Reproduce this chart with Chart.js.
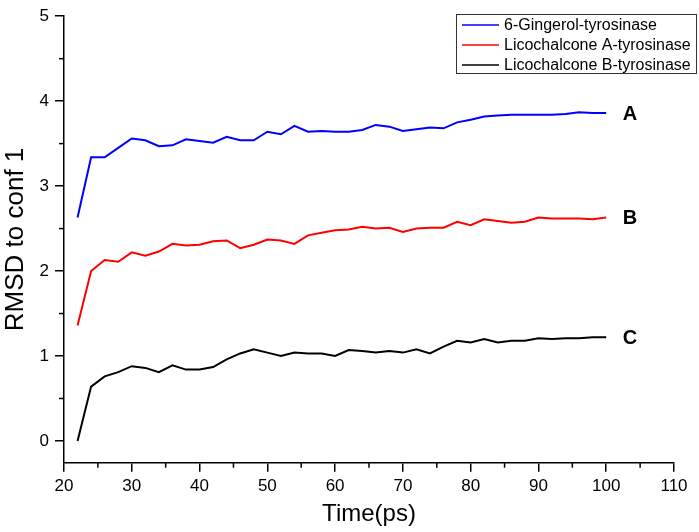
<!DOCTYPE html>
<html>
<head>
<meta charset="utf-8">
<script src="https://cdn.jsdelivr.net/npm/chart.js@4/dist/chart.umd.min.js"></script>
<style>
    html, body { margin: 0; padding: 0; background: #fff; }
    #wrap { width: 699px; height: 532px; }
</style>
</head>
<body>
<div id="wrap"><canvas id="rmsdChart" width="699" height="532"></canvas></div>
<script>
// ================= DATA =================
const times = [22,24,26,28,30,32,34,36,38,40,42,44,46,48,50,52,54,56,58,60,
               62,64,66,68,70,72,74,76,78,80,82,84,86,88,90,92,94,96,98,100];

const gingerol = [2.63,3.34,3.34,3.45,3.56,3.54,3.47,3.48,3.55,3.53,
                  3.51,3.58,3.54,3.54,3.64,3.61,3.71,3.64,3.65,3.64,
                  3.64,3.66,3.72,3.70,3.65,3.67,3.69,3.68,3.75,3.78,
                  3.82,3.83,3.84,3.84,3.84,3.84,3.85,3.87,3.86,3.86];

const licoA = [1.36,2.00,2.13,2.11,2.22,2.18,2.23,2.32,2.30,2.31,
               2.35,2.36,2.27,2.31,2.37,2.36,2.32,2.42,2.45,2.48,
               2.49,2.52,2.50,2.51,2.46,2.50,2.51,2.51,2.58,2.54,
               2.61,2.59,2.57,2.58,2.63,2.62,2.62,2.62,2.61,2.63];

const licoB = [0.00,0.64,0.76,0.81,0.88,0.86,0.81,0.89,0.84,0.84,
               0.87,0.96,1.03,1.08,1.04,1.00,1.04,1.03,1.03,1.00,
               1.07,1.06,1.04,1.06,1.04,1.08,1.03,1.11,1.18,1.16,
               1.20,1.16,1.18,1.18,1.21,1.20,1.21,1.21,1.22,1.22];

const seriesNames = ["6-Gingerol-tyrosinase", "Licochalcone A-tyrosinase", "Licochalcone B-tyrosinase"];
const endLabels = ["A", "B", "C"];

const xTicks = [20,30,40,50,60,70,80,90,100,110];
const xMinorTicks = [25,35,45,55,65,75,85,95,105];
const yTicks = [0,1,2,3,4,5];
const yMinorTicks = [0.5,1.5,2.5,3.5,4.5];

const FONT = "'Liberation Sans', Arial, sans-serif";

function toPoints(values) {
    return times.map((t, i) => ({ x: t, y: values[i] }));
}

// ================= EXTRAS (minor ticks, legend, A/B/C) =================
const extras = {
    id: "extras",
    afterDraw(chart) {
        const ctx = chart.ctx;
        const xs = chart.scales.x;
        const ys = chart.scales.y;
        const area = chart.chartArea;

        ctx.save();
        ctx.strokeStyle = "#000";
        ctx.lineWidth = 1.5;

        // minor ticks
        xMinorTicks.forEach(v => {
            const px = xs.getPixelForValue(v);
            ctx.beginPath();
            ctx.moveTo(px, area.bottom);
            ctx.lineTo(px, area.bottom + 5);
            ctx.stroke();
        });
        yMinorTicks.forEach(v => {
            const py = ys.getPixelForValue(v);
            ctx.beginPath();
            ctx.moveTo(area.left, py);
            ctx.lineTo(area.left - 5, py);
            ctx.stroke();
        });

        // end labels
        ctx.fillStyle = "#000";
        ctx.font = "bold 20px " + FONT;
        ctx.textAlign = "center";
        ctx.textBaseline = "middle";
        chart.data.datasets.forEach((ds, i) => {
            const last = ds.data[ds.data.length - 1];
            ctx.fillText(endLabels[i], xs.getPixelForValue(103.5), ys.getPixelForValue(last.y) + 1);
        });

        // legend box
        const bx = 456.5, by = 14.5, bw = 240, bh = 59;
        ctx.lineWidth = 1;
        ctx.strokeStyle = "#333";
        ctx.strokeRect(bx, by, bw, bh);

        ctx.font = "16px " + FONT;
        ctx.textAlign = "left";
        chart.data.datasets.forEach((ds, i) => {
            const rowY = 25 + i * 20;
            ctx.strokeStyle = ds.borderColor;
            ctx.lineWidth = 1.5;
            ctx.beginPath();
            ctx.moveTo(462, rowY);
            ctx.lineTo(499, rowY);
            ctx.stroke();
            ctx.fillStyle = "#000";
            ctx.fillText(ds.label, 504, rowY + 1);
        });

        ctx.restore();
    }
};

// ================= CHART =================
const colors = ["#0000ff", "#ff0000", "#000000"];
const allSeries = [gingerol, licoA, licoB];

new Chart(document.getElementById("rmsdChart"), {
    type: "line",
    data: {
        datasets: allSeries.map((vals, i) => ({
            label: seriesNames[i],
            data: toPoints(vals),
            borderColor: colors[i],
            backgroundColor: colors[i],
            borderWidth: 2,
            pointRadius: 0,
            tension: 0,
            fill: false
        }))
    },
    options: {
        responsive: false,
        animation: false,
        layout: { padding: { top: 10.7, right: 25, bottom: 0, left: 0 } },
        plugins: {
            legend: { display: false },
            tooltip: { enabled: false }
        },
        scales: {
            x: {
                type: "linear",
                min: 20,
                max: 110,
                afterBuildTicks: s => { s.ticks = xTicks.map(v => ({ value: v })); },
                afterFit: s => { s.height = 69.3; },
                border: { display: true, color: "#000", width: 1.5 },
                grid: { drawOnChartArea: false, drawTicks: true, tickLength: 9, color: "#000", lineWidth: 1.5 },
                ticks: { color: "#000", font: { family: FONT, size: 17 }, padding: 4, maxRotation: 0 },
                title: { display: true, text: "Time(ps)", color: "#000", font: { family: FONT, size: 24 }, padding: { top: 0, bottom: 3 } }
            },
            y: {
                type: "linear",
                min: -0.256,
                max: 5,
                afterBuildTicks: s => { s.ticks = yTicks.map(v => ({ value: v })); },
                afterFit: s => { s.width = 64; },
                border: { display: true, color: "#000", width: 1.5 },
                grid: { drawOnChartArea: false, drawTicks: true, tickLength: 9, color: "#000", lineWidth: 1.5 },
                ticks: { color: "#000", font: { family: FONT, size: 17 }, padding: 6 },
                title: { display: true, text: "RMSD to conf 1", color: "#000", font: { family: FONT, size: 26 }, padding: { top: 0, bottom: 0 } }
            }
        }
    },
    plugins: [extras]
});
</script>
</body>
</html>
